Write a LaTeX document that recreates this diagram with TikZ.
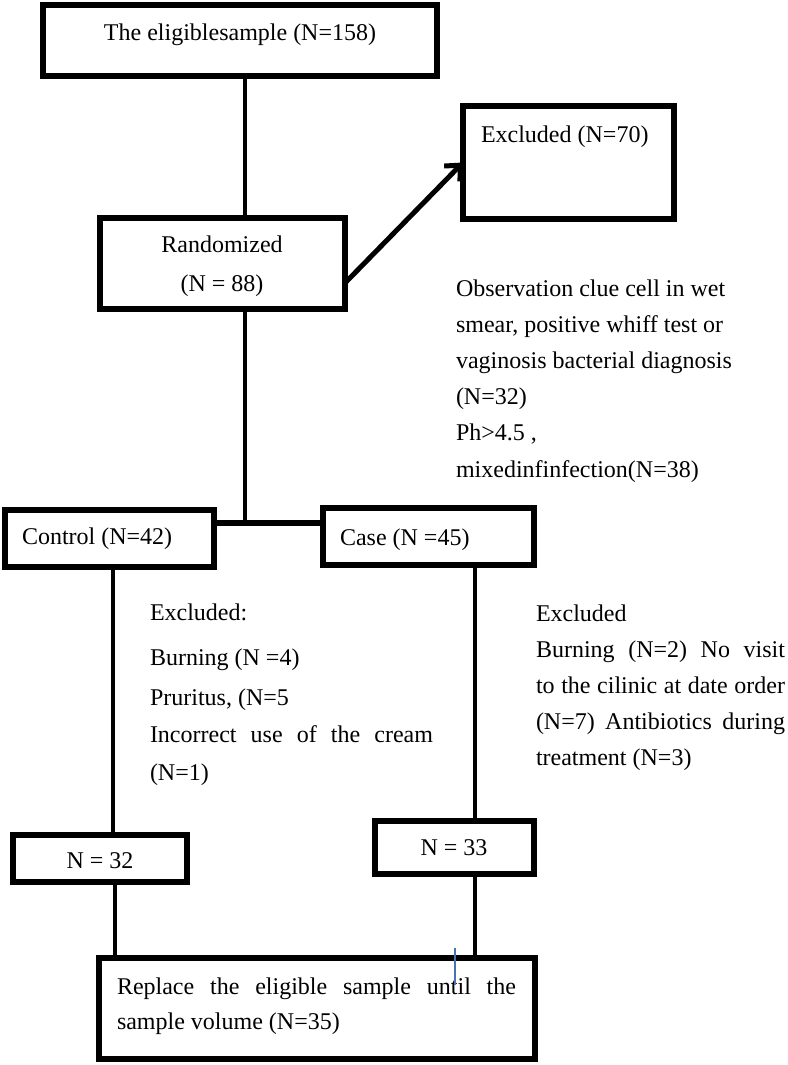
\documentclass[tikz,border=0pt]{standalone}
\usepackage{fontspec}
\setmainfont{Liberation Serif}
\usetikzlibrary{arrows.meta,calc}
\definecolor{cursorblue}{HTML}{4A72B0}
\begin{document}
\begin{tikzpicture}[x=1pt,y=-1pt,
  box/.style={draw,line width=5.5pt,inner sep=0pt,outer sep=0pt},
  conn/.style={line width=4.5pt},
  txt/.style={inner sep=0pt,outer sep=0pt,font=\fontsize{24}{36.2}\selectfont,align=left},
]
\useasboundingbox (0,0) rectangle (787,1065);
% boxes
\node[box,minimum width=394pt,minimum height=71pt] (elig) at (240,40.5) {};
\node[box,minimum width=245pt,minimum height=91pt] (rand) at (222.5,263.5) {};
\node[box,minimum width=211pt,minimum height=113pt] (exc) at (568.5,162.5) {};
\node[box,minimum width=209pt,minimum height=57pt] (ctrl) at (109.5,538.5) {};
\node[box,minimum width=211pt,minimum height=57pt] (case) at (428.5,536.5) {};
\node[box,minimum width=174pt,minimum height=47pt] (n32) at (100,858.5) {};
\node[box,minimum width=159pt,minimum height=53pt] (n33) at (454.5,847.5) {};
\node[box,minimum width=436pt,minimum height=101pt] (rep) at (317,1008.5) {};
% texts (base anchor = baseline of last line)
\node[txt,anchor=base] (eligt) at (240,41) {The eligiblesample (N=158)};
\node[txt,anchor=base,align=center] (randt) at (222,291) {Randomized\\[2pt](N = 88)};
\node[txt,anchor=base west] (exct) at (481,142) {Excluded (N=70)};
\node[txt,anchor=base west] (obs) at (456,477) {Observation clue cell in wet\\smear, positive whiff test or\\vaginosis bacterial diagnosis\\(N=32)\\Ph>4.5 ,\\mixedinfinfection(N=38)};
\node[txt,anchor=base west] (ctrlt) at (22,544) {Control (N=42)};
\node[txt,anchor=base west] (caset) at (340,545) {Case (N =45)};
\node[txt,anchor=base west,font=\fontsize{24}{37.5}\selectfont] (cex) at (150,780) {Excluded:\\[7.5pt]Burning (N =4)\\[2.5pt]Pruritus, (N=5\\\makebox[283pt][s]{Incorrect use of the cream}\\(N=1)};
\node[txt,anchor=base west,font=\fontsize{24}{36}\selectfont] (kex) at (536,765) {Excluded\\\makebox[249pt][s]{Burning (N=2) No visit}\\\makebox[249pt][s]{to the cilinic at date order}\\\makebox[249pt][s]{(N=7) Antibiotics during}\\treatment (N=3)};
\node[txt,anchor=base] (n32t) at (100,868) {N = 32};
\node[txt,anchor=base] (n33t) at (454,855) {N = 33};
\node[txt,anchor=base west,font=\fontsize{24}{35}\selectfont] (rept) at (117,1029) {\makebox[399pt][s]{Replace the eligible sample until the}\\sample volume (N=35)};
% connectors
\draw[conn] ([xshift=5pt]elig.south) -- ([xshift=22.5pt]rand.north);
\coordinate (hj) at (245,523);
\draw[conn] ([xshift=22.5pt]rand.south) -- (hj);
\draw[line width=6pt] (hj -| ctrl.east) -- (hj -| case.west);
\draw[line width=5pt,-{Straight Barb[length=12pt,width=22pt]}] ([yshift=-19.5pt]rand.east) -- (exc.west);
\draw[conn] ([xshift=3.5pt]ctrl.south) -- ([xshift=13pt]n32.north);
\draw[conn] ([xshift=46.5pt]case.south) -- ([xshift=20.5pt]n33.north);
\draw[conn] ([xshift=15pt]n32.south) -- ([xshift=-202pt]rep.north);
\draw[conn] ([xshift=20.5pt]n33.south) -- ([xshift=158pt]rep.north);
% stray cursor mark
\coordinate (bm1) at (455,948);
\coordinate (bm2) at (455,985);
\draw[cursorblue,line width=1.5pt] (bm1) -- (bm2);
\end{tikzpicture}
\end{document}
